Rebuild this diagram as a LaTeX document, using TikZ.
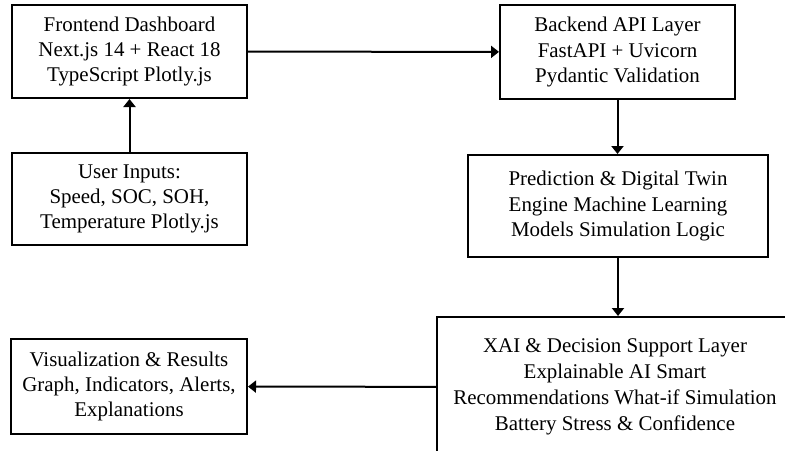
\documentclass[tikz,border=0pt]{standalone}
\usepackage{fontspec}
\setmainfont{Liberation Serif}
\usetikzlibrary{arrows.meta}
\begin{document}
\begin{tikzpicture}[x=0.75pt,y=-0.75pt,
  blk/.style={draw,line width=1.5pt,align=center,inner sep=0pt,
    font=\fontsize{15.7}{18.8}\selectfont},
  arr/.style={line width=1.5pt,-{Triangle[length=6pt,width=9pt]}}]
\clip (0,0) rectangle (785,450);
\node[blk,minimum width=176.25pt,minimum height=69.75pt] (front) at (129.5,51.5) {Frontend Dashboard \\ Next.js 14 + React 18 \\ TypeScript Plotly.js};
\node[blk,minimum width=176.25pt,minimum height=69pt] (user) at (129.5,199) {User Inputs: \\ Speed, SOC, SOH, \\ Temperature Plotly.js};
\node[blk,minimum width=176.25pt,minimum height=70.5pt] (back) at (617.5,52) {Backend API Layer \\ FastAPI + Uvicorn \\ Pydantic Validation};
\node[blk,minimum width=225pt,minimum height=76.5pt] (pred) at (618,206) {Prediction \& Digital Twin \\ Engine Machine Learning \\ Models Simulation Logic};
\node[blk,minimum width=267pt,minimum height=105pt,font=\fontsize{15.7}{19.6}\selectfont] (xai) at (615,387) {XAI \& Decision Support Layer \\ Explainable AI Smart \\ Recommendations What-if Simulation \\ Battery Stress \& Confidence};
\node[blk,minimum width=177pt,minimum height=71.25pt] (vis) at (129,386.5) {Visualization \& Results \\ Graph, Indicators, Alerts, \\ Explanations};
\draw[arr] (user) -- (front);
\draw[arr] (front) -- (back);
\draw[arr] (back.south) -- (back.south |- pred.north);
\draw[arr] (pred.south) -- (pred.south |- xai.north);
\draw[arr] (xai) -- (vis);
\end{tikzpicture}
\end{document}
